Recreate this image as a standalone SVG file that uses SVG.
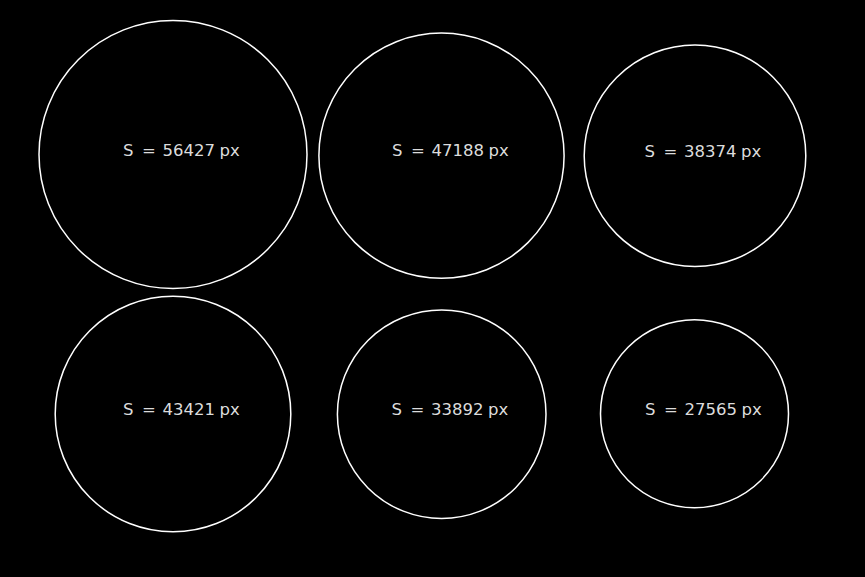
<svg xmlns="http://www.w3.org/2000/svg" width="865" height="577" viewBox="0 0 865 577">
<style>
.c{fill:none;stroke:#ffffff;stroke-width:1.5}
.t{font-family:"DejaVu Sans","Liberation Sans",sans-serif;font-size:16.5px;fill:#dcdcdc}
</style>
<rect x="0" y="0" width="865" height="577" fill="#000000"/>
<g id="n1"><circle class="c" cx="173" cy="154.5" r="134"/><text class="t" y="156"><tspan x="123">S</tspan><tspan x="142">=</tspan><tspan x="162.5">56427</tspan><tspan x="219.5">px</tspan></text></g>
<g id="n2"><circle class="c" cx="441.5" cy="155.7" r="122.6"/><text class="t" y="156"><tspan x="392">S</tspan><tspan x="411">=</tspan><tspan x="431.5">47188</tspan><tspan x="488.5">px</tspan></text></g>
<g id="n3"><circle class="c" cx="695" cy="155.8" r="110.8"/><text class="t" y="157"><tspan x="644.5">S</tspan><tspan x="663.5">=</tspan><tspan x="684">38374</tspan><tspan x="741">px</tspan></text></g>
<g id="n4"><circle class="c" cx="173" cy="414" r="117.8"/><text class="t" y="414.5"><tspan x="123">S</tspan><tspan x="142">=</tspan><tspan x="162.5">43421</tspan><tspan x="219.5">px</tspan></text></g>
<g id="n5"><circle class="c" cx="441.7" cy="414.2" r="104.3"/><text class="t" y="414.5"><tspan x="391.5">S</tspan><tspan x="410.5">=</tspan><tspan x="431">33892</tspan><tspan x="488">px</tspan></text></g>
<g id="n6"><circle class="c" cx="694.5" cy="413.7" r="94"/><text class="t" y="414.7"><tspan x="645">S</tspan><tspan x="664">=</tspan><tspan x="684.5">27565</tspan><tspan x="741.5">px</tspan></text></g>
<g id="connectors"></g>
</svg>
